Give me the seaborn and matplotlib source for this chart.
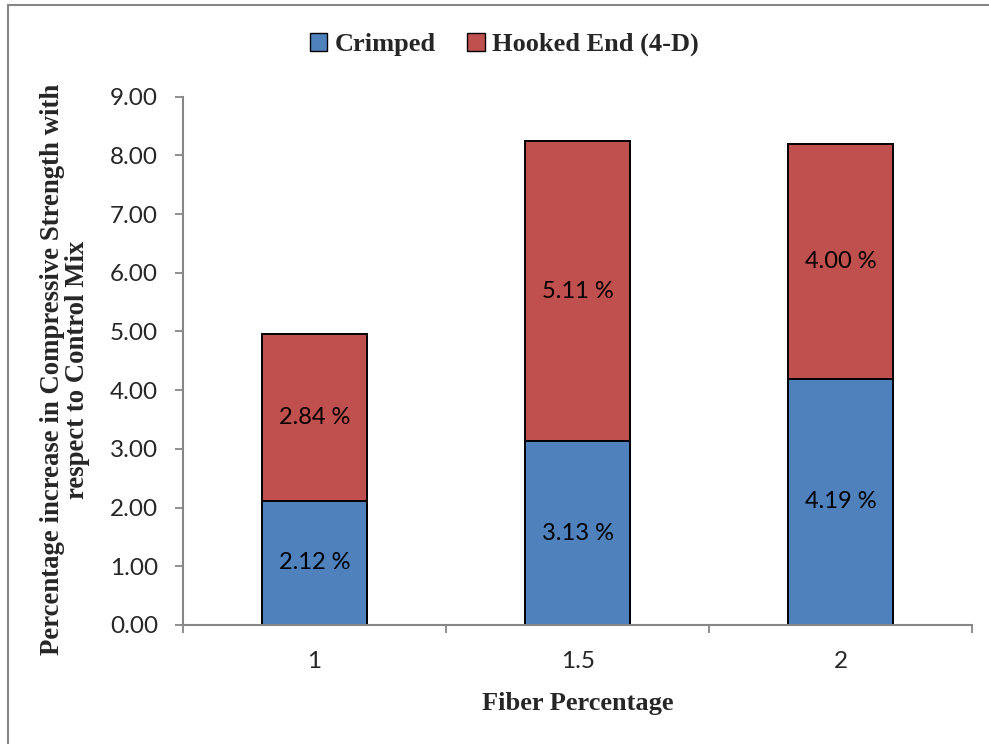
import matplotlib
matplotlib.use("Agg")
import matplotlib.pyplot as plt
from matplotlib.patches import Patch
from matplotlib.lines import Line2D
import seaborn as sns
import pandas as pd

fiber_pct = ["1", "1.5", "2"]
crimped = [2.12, 3.13, 4.19]
hooked_end = [2.84, 5.11, 4.00]
y_ticks = [0, 1, 2, 3, 4, 5, 6, 7, 8, 9]

BLUE = "#4F81BD"
RED = "#C0504D"
GRAY = "#868686"
SANS = ["Lato", "DejaVu Sans"]
SERIF = ["Liberation Serif", "DejaVu Serif"]

sns.set_theme(style="white")
plt.rcParams["font.family"] = SANS

df = pd.DataFrame({"fiber": fiber_pct, "crimped": crimped, "hooked": hooked_end})
df["total"] = df["crimped"] + df["hooked"]

fig = plt.figure(figsize=(9.89, 7.44), dpi=100)
ax = fig.add_axes([0.185, 0.160, 0.798, 0.710])

# stacked bars: full height in red, crimped portion in blue on top of it
sns.barplot(data=df, x="fiber", y="total", color=RED, width=0.4,
            edgecolor="black", linewidth=1.4, saturation=1, ax=ax)
sns.barplot(data=df, x="fiber", y="crimped", color=BLUE, width=0.4,
            edgecolor="black", linewidth=1.4, saturation=1, ax=ax)

for i, (c, h) in enumerate(zip(df["crimped"], df["hooked"])):
    ax.text(i, c / 2, f"{c:.2f} %", ha="center", va="center", fontsize=17, color="black")
    ax.text(i, c + h / 2, f"{h:.2f} %", ha="center", va="center", fontsize=17, color="black")

ax.set_ylim(0, 9)
ax.set_xlim(-0.5, 2.5)
ax.set_yticks(y_ticks)
ax.set_yticklabels([f"{v:.2f}" for v in y_ticks], fontsize=17.5)
ax.tick_params(axis="y", which="major", direction="out", length=6, width=1.3,
               color=GRAY, pad=12, left=True)
ax.tick_params(axis="x", which="major", length=0, pad=19, labelsize=17.5)
ax.set_xticks([-0.5, 0.5, 1.5, 2.5], minor=True)
ax.tick_params(axis="x", which="minor", direction="out", length=6, width=1.3,
               color=GRAY, bottom=True)

for side in ["top", "right"]:
    ax.spines[side].set_visible(False)
for side in ["left", "bottom"]:
    ax.spines[side].set_color(GRAY)
    ax.spines[side].set_linewidth(1.5)

ax.set_xlabel("Fiber Percentage", fontfamily=SERIF, fontweight="bold",
              fontsize=19, labelpad=14)
ax.set_ylabel("Percentage increase in Compressive Strength with\nrespect to Control Mix",
              fontfamily=SERIF, fontweight="bold", fontsize=19.3,
              linespacing=1.0)
ax.yaxis.set_label_coords(-0.118, 0.483)

handles = [Patch(facecolor=BLUE, edgecolor="black", linewidth=1.0),
           Patch(facecolor=RED, edgecolor="black", linewidth=1.0)]
fig.legend(handles, ["Crimped", "Hooked End (4-D)"], loc="center",
           bbox_to_anchor=(0.51, 0.94), ncol=2, frameon=False,
           prop={"family": SERIF, "weight": "bold", "size": 19},
           handlelength=0.65, handleheight=0.65, handletextpad=0.3,
           columnspacing=1.2)

# outer chart border
fig.add_artist(Line2D([8 / 989, 8 / 989], [0, 1 - 5 / 744], transform=fig.transFigure,
                      color=GRAY, linewidth=1.5))
fig.add_artist(Line2D([8 / 989, 1], [1 - 5 / 744, 1 - 5 / 744], transform=fig.transFigure,
                      color=GRAY, linewidth=1.5))

fig.savefig("out.png", dpi=100)
